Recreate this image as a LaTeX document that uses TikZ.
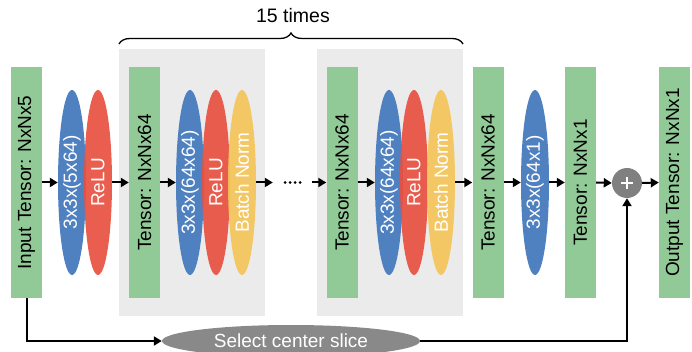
\documentclass[tikz,border=0pt]{standalone}
\usepackage{fontspec}
\setmainfont{Liberation Sans}
\usetikzlibrary{shapes.geometric,arrows.meta,decorations.pathreplacing}
\definecolor{cgreen}{RGB}{145,201,151}
\definecolor{cblue}{RGB}{79,129,193}
\definecolor{cred}{RGB}{232,80,64}
\definecolor{cyellow}{RGB}{245,197,90}
\definecolor{cpanel}{RGB}{235,235,235}
\definecolor{csel}{RGB}{137,137,137}
\definecolor{cplus}{RGB}{128,128,128}
\begin{document}
\begin{tikzpicture}[x=1pt,y=-1pt,
  font=\fontsize{19}{22}\selectfont,
  tensorbox/.style={rectangle,fill=cgreen,minimum width=31pt,minimum height=231pt,inner sep=0pt},
  opell/.style={ellipse,minimum width=28pt,minimum height=185pt,inner sep=0pt},
  vtext/.style={rotate=90,text=white,inner sep=0pt},
  panel/.style={fill=cpanel},
  conn/.style={line width=2pt,-{Triangle[length=8pt,width=9pt]}},
  skip/.style={line width=2pt,-{Triangle[length=8pt,width=9pt]}}]
\useasboundingbox (0,0) rectangle (692,352);
\clip (0,0) rectangle (692,352);
% panels
\node[panel,minimum width=146pt,minimum height=267pt,inner sep=0pt] (p1) at (192,182.5) {};
\node[panel,minimum width=146pt,minimum height=267pt,inner sep=0pt] (p2) at (390,182.5) {};
% brace
\coordinate (bl) at (119,44);
\coordinate (br) at (463,44);
\draw[line width=1.3pt,decorate,decoration={brace,amplitude=11pt}] (bl) -- (br);
\node (times) at (293,16) {\fontsize{19.5}{22}\selectfont 15 times};
% tensor boxes
\node[tensorbox] (in) at (26.5,182.5) {\rotatebox{90}{Input Tensor: NxNx5}};
\node[tensorbox] (t2) at (144.5,182.5) {\rotatebox{90}{Tensor: NxNx64}};
\node[tensorbox] (t3) at (342,182.5) {\rotatebox{90}{Tensor: NxNx64}};
\node[tensorbox] (t4) at (488,182.5) {\rotatebox{90}{Tensor: NxNx64}};
\node[tensorbox] (t5) at (580.5,182.5) {\rotatebox{90}{Tensor: NxNx1}};
\node[tensorbox] (out) at (674.5,182.5) {\rotatebox{90}{Output Tensor: NxNx1}};
% ellipses group 1
\node[opell,fill=cblue] (b1) at (72,182.5) {};
\node[vtext] at (b1) {3x3x(5x64)};
\node[opell,fill=cred,fill opacity=0.92] (r1) at (98,182.5) {};
\node[vtext] at (r1) {ReLU};
% group 2
\node[opell,fill=cblue] (b2) at (190,182.5) {};
\node[vtext] at (b2) {3x3x(64x64)};
\node[opell,fill=cred,fill opacity=0.92] (r2) at (216,182.5) {};
\node[vtext] at (r2) {ReLU};
\node[opell,fill=cyellow,fill opacity=0.92] (y2) at (242,182.5) {};
\node[vtext] at (y2) {Batch Norm};
% group 3
\node[opell,fill=cblue] (b3) at (389,182.5) {};
\node[vtext] at (b3) {3x3x(64x64)};
\node[opell,fill=cred,fill opacity=0.92] (r3) at (414,182.5) {};
\node[vtext] at (r3) {ReLU};
\node[opell,fill=cyellow,fill opacity=0.92] (y3) at (441,182.5) {};
\node[vtext] at (y3) {Batch Norm};
% last conv
\node[opell,fill=cblue] (b4) at (535,182.5) {};
\node[vtext] at (b4) {3x3x(64x1)};
% dots
\node[minimum width=39pt,inner sep=0pt] (dots) at (292.5,182.5) {};
\foreach \dx in {-7.5,-2.5,2.5,7.5} \fill (292.5+\dx,182.5) circle (1.5pt);
% plus
\node[circle,fill=cplus,minimum size=30pt,inner sep=0pt] (plus) at (627,183) {};
\draw[white,line width=2.2pt] ([xshift=-6pt]plus.center) -- ([xshift=6pt]plus.center)
  ([yshift=-6pt]plus.center) -- ([yshift=6pt]plus.center);
% select
\node[ellipse,fill=csel,minimum width=258pt,minimum height=32pt,inner sep=0pt,text=white] (sel) at (291,341) {Select center slice};
% connectors
\draw[conn] (in.east) -- (b1.west);
\draw[conn] (r1.east) -- (t2.west);
\draw[conn] (t2.east) -- (b2.west);
\draw[conn] (y2.east) -- (dots.west);
\draw[conn] (dots.east) -- (t3.west);
\draw[conn] (t3.east) -- (b3.west);
\draw[conn] (y3.east) -- (t4.west);
\draw[conn] (t4.east) -- (b4.west);
\draw[conn] (b4.east) -- (t5.west);
\draw[conn] (t5.east) -- (plus.west);
\draw[conn] (plus.east) -- (out.west);
\draw[skip] (in.south) |- (sel.west);
\draw[skip] (sel.east) -| (plus.south);
\end{tikzpicture}
\end{document}
